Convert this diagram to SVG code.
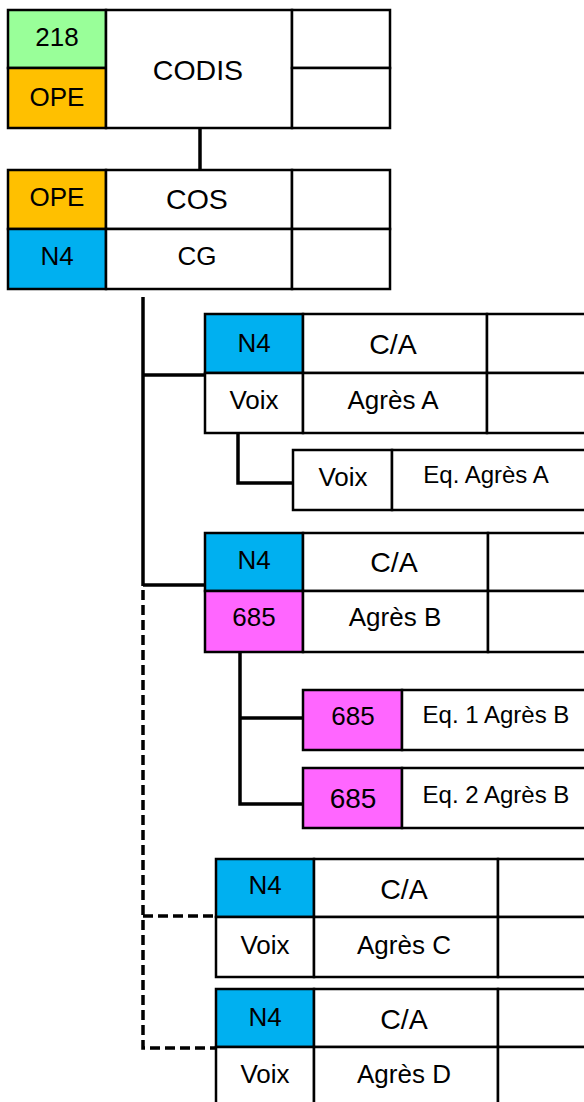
<svg xmlns="http://www.w3.org/2000/svg" width="584" height="1102" viewBox="0 0 584 1102">
<style>
.n rect{stroke:#000;stroke-width:2.5}
.w{fill:#fff}.g{fill:#99ff99}.o{fill:#ffc000}.b{fill:#00b0f0}.m{fill:#ff66ff}
text{font-family:"Liberation Sans",Arial,sans-serif;text-anchor:middle;dominant-baseline:central;fill:#000;font-size:26px}
.L{font-size:28.5px}.E{font-size:24px}
.c line,.c path{stroke:#000;stroke-width:3.5;fill:none}
.c .d{stroke-dasharray:10,5}
</style>
<rect x="0" y="0" width="584" height="1102" fill="#fff"/>
<g class="c" id="connectors">
<line x1="200" y1="128" x2="200" y2="170"/>
<line x1="143" y1="297" x2="143" y2="586"/>
<line x1="143" y1="375" x2="205" y2="375"/>
<line x1="143" y1="585" x2="205" y2="585"/>
<path d="M238 433 V483 H293"/>
<path d="M240 652 V804 H303"/>
<line x1="240" y1="718" x2="303" y2="718"/>
<path class="d" d="M143 590 V1048 H216"/>
<line class="d" x1="143" y1="916" x2="216" y2="916"/>
</g>
<g class="n" id="codis">
<rect class="g" x="8" y="10" width="98" height="58"/>
<rect class="o" x="8" y="68" width="98" height="60"/>
<rect class="w" x="106" y="10" width="186" height="118"/>
<rect class="w" x="292" y="10" width="98" height="58"/>
<rect class="w" x="292" y="68" width="98" height="60"/>
<text x="57" y="37">218</text>
<text x="57" y="97">OPE</text>
<text class="L" x="198" y="70">CODIS</text>
</g>
<g class="n" id="cos">
<rect class="o" x="8" y="170" width="98" height="59"/>
<rect class="w" x="106" y="170" width="186" height="59"/>
<rect class="w" x="292" y="170" width="98" height="59"/>
<rect class="b" x="8" y="229" width="98" height="60"/>
<rect class="w" x="106" y="229" width="186" height="60"/>
<rect class="w" x="292" y="229" width="98" height="60"/>
<text x="57" y="197">OPE</text>
<text class="L" x="197" y="199">COS</text>
<text x="57" y="256">N4</text>
<text x="197" y="256">CG</text>
</g>
<g class="n" id="agres-a">
<rect class="b" x="205" y="314" width="98" height="59"/>
<rect class="w" x="303" y="314" width="184" height="59"/>
<rect class="w" x="487" y="314" width="100" height="59"/>
<rect class="w" x="205" y="373" width="98" height="60"/>
<rect class="w" x="303" y="373" width="184" height="60"/>
<rect class="w" x="487" y="373" width="100" height="60"/>
<text x="254" y="343">N4</text>
<text class="L" x="393" y="344">C/A</text>
<text x="254" y="400">Voix</text>
<text x="393" y="400">Agrès A</text>
</g>
<g class="n" id="eq-agres-a">
<rect class="w" x="293" y="450" width="99" height="60"/>
<rect class="w" x="392" y="450" width="195" height="60"/>
<text x="343" y="477">Voix</text>
<text class="E" x="486" y="474">Eq. Agrès A</text>
</g>
<g class="n" id="agres-b">
<rect class="b" x="205" y="533" width="98" height="58"/>
<rect class="w" x="303" y="533" width="185" height="58"/>
<rect class="w" x="488" y="533" width="99" height="58"/>
<rect class="m" x="205" y="591" width="98" height="61"/>
<rect class="w" x="303" y="591" width="185" height="61"/>
<rect class="w" x="488" y="591" width="99" height="61"/>
<text x="254" y="560">N4</text>
<text class="L" x="394" y="562">C/A</text>
<text x="254" y="617">685</text>
<text x="395" y="617">Agrès B</text>
</g>
<g class="n" id="eq1-agres-b">
<rect class="m" x="303" y="690" width="99" height="60"/>
<rect class="w" x="402" y="690" width="185" height="60"/>
<text x="353" y="716">685</text>
<text class="E" x="496" y="714">Eq. 1 Agrès B</text>
</g>
<g class="n" id="eq2-agres-b">
<rect class="m" x="303" y="768" width="99" height="60"/>
<rect class="w" x="402" y="768" width="185" height="60"/>
<text x="353" y="798" style="font-size:28px">685</text>
<text class="E" x="496" y="794">Eq. 2 Agrès B</text>
</g>
<g class="n" id="agres-c">
<rect class="b" x="216" y="859" width="98" height="58"/>
<rect class="w" x="314" y="859" width="184" height="58"/>
<rect class="w" x="498" y="859" width="89" height="58"/>
<rect class="w" x="216" y="917" width="98" height="60"/>
<rect class="w" x="314" y="917" width="184" height="60"/>
<rect class="w" x="498" y="917" width="89" height="60"/>
<text x="265" y="885">N4</text>
<text class="L" x="404" y="889">C/A</text>
<text x="265" y="945">Voix</text>
<text x="404" y="945">Agrès C</text>
</g>
<g class="n" id="agres-d">
<rect class="b" x="216" y="989" width="98" height="58"/>
<rect class="w" x="314" y="989" width="184" height="58"/>
<rect class="w" x="498" y="989" width="89" height="58"/>
<rect class="w" x="216" y="1047" width="98" height="60"/>
<rect class="w" x="314" y="1047" width="184" height="60"/>
<rect class="w" x="498" y="1047" width="89" height="60"/>
<text x="265" y="1017">N4</text>
<text class="L" x="404" y="1019">C/A</text>
<text x="265" y="1074">Voix</text>
<text x="404" y="1074">Agrès D</text>
</g>
</svg>
